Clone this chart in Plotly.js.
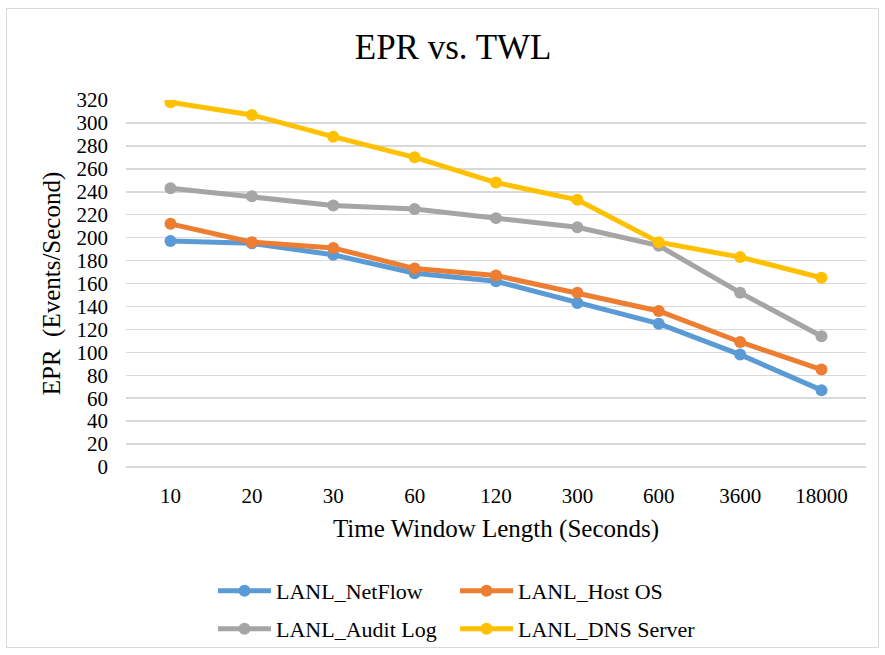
<!DOCTYPE html>
<html>
<head>
<meta charset="utf-8">
<script src="https://cdn.plot.ly/plotly-3.0.1.min.js"></script>
<style>
html,body{margin:0;padding:0;background:#fff;}
#wrap{position:relative;width:885px;height:655px;}
#chart{width:885px;height:655px;}
#frame{position:absolute;left:6px;top:8px;width:873px;height:640px;border:1.5px solid #d9d9d9;pointer-events:none;box-sizing:border-box;}
</style>
</head>
<body>
<div id="wrap"><div id="chart"></div><div id="frame"></div></div>
<script>
const categories = ["10","20","30","60","120","300","600","3600","18000"];
const netflow = [197, 195, 185, 169, 162, 143, 125, 98, 67];
const hostOS  = [212, 196, 191, 173, 167, 152, 136, 109, 85];
const auditLog = [243, 236, 228, 225, 217, 209, 193, 152, 114];
const dnsServer = [318, 307, 288, 270, 248, 233, 196, 183, 165];
const seriesNames = ["LANL_NetFlow","LANL_Host OS","LANL_Audit Log","LANL_DNS Server"];
const colors = ["#5B9BD5","#ED7D31","#A5A5A5","#FFC000"];
const yTicks = [0,20,40,60,80,100,120,140,160,180,200,220,240,260,280,300,320];

const allSeries = [netflow, hostOS, auditLog, dnsServer];
const legends = ["legend","legend","legend2","legend2"];
const traces = allSeries.map((vals, i) => ({
  x: categories, y: vals, name: seriesNames[i], type: "scatter", mode: "lines+markers",
  line: {color: colors[i], width: 5}, marker: {color: colors[i], size: 12},
  legend: legends[i]
}));

const fam = "Liberation Serif, Times New Roman, serif";
const font = {family: fam, color: "#000"};
const legendCommon = {orientation: "h", xanchor: "left", yanchor: "middle", xref: "container", yref: "container",
  font: {family: fam, size: 22, color: "#000"}, entrywidth: 174, entrywidthmode: "pixels",
  itemwidth: 53, bgcolor: "rgba(0,0,0,0)", traceorder: "normal"};

const layout = {
  width: 885, height: 655,
  margin: {l: 126, r: 19, t: 100, b: 188},
  paper_bgcolor: "#fff", plot_bgcolor: "#fff",
  font: font,
  title: {text: "EPR vs. TWL", font: {family: fam, size: 35, color: "#000"}, xref: "container", x: 0.512, xanchor: "center", y: 0.928, yanchor: "middle"},
  showlegend: true,
  xaxis: {type: "category", tickvals: categories, ticktext: categories, showgrid: false, showline: false, ticks: "",
    tickfont: {family: fam, size: 21, color: "#000"}, ticklabelstandoff: 14,
    title: {text: "Time Window Length (Seconds)", font: {family: fam, size: 25, color: "#000"}, standoff: 12}},
  yaxis: {range: [0, 320], tickvals: yTicks, showgrid: true, gridcolor: "#d9d9d9", gridwidth: 1.5,
    zeroline: true, zerolinecolor: "#d9d9d9", zerolinewidth: 1.5, showline: false, ticks: "",
    tickfont: {family: fam, size: 21, color: "#000"}, ticklabelstandoff: 17,
    title: {text: "EPR\u00a0\u00a0(Events/Second)", font: {family: fam, size: 25, color: "#000"}, standoff: 8}},
  legend: Object.assign({}, legendCommon, {x: 0.2407, y: 0.0977}),
  legend2: Object.assign({}, legendCommon, {x: 0.2407, y: 0.0397})
};
Plotly.newPlot("chart", traces, layout, {displayModeBar: false, staticPlot: true});
</script>
</body>
</html>
